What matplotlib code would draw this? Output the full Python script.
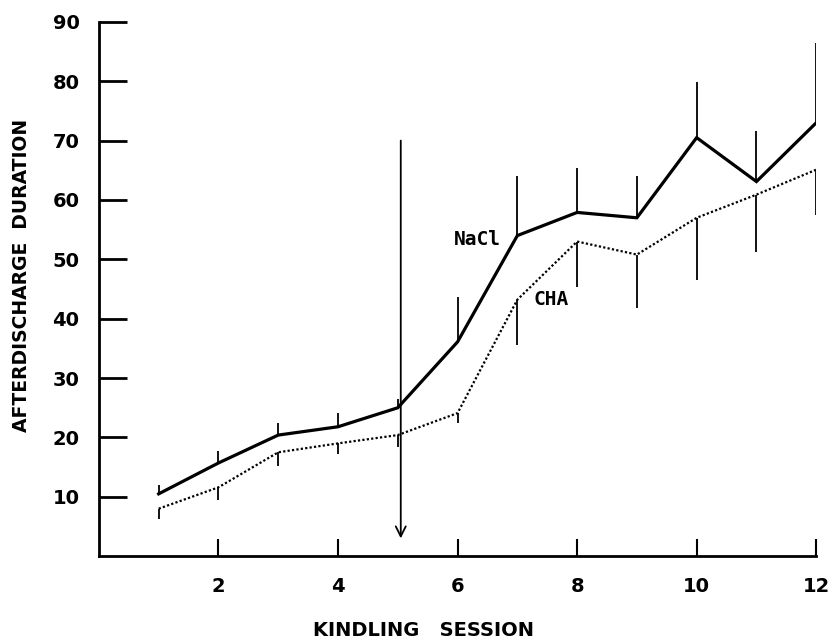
import matplotlib.pyplot as plt
import numpy as np

# kindling session data
sessions = np.arange(1, 13)
nacl_mean = [10.5, 15.7, 20.4, 21.8, 25.0, 36.1, 54.0, 57.9, 57.0, 70.5, 63.1, 73.0]
nacl_err = [1.5, 2.0, 2.0, 2.3, 1.5, 7.6, 10.0, 7.5, 7.0, 9.3, 8.6, 13.5]
cha_mean = [8.0, 11.6, 17.5, 19.0, 20.4, 24.1, 43.2, 53.0, 50.8, 57.0, 60.9, 65.1]
cha_err = [1.7, 2.2, 2.3, 1.8, 2.0, 1.7, 7.6, 7.6, 9.0, 10.5, 9.6, 7.6]

x_ticks = [2, 4, 6, 8, 10, 12]
y_ticks = [10, 20, 30, 40, 50, 60, 70, 80, 90]

fig = plt.figure(figsize=(8.38, 6.43), dpi=100)
ax = fig.add_axes([0.118, 0.135, 0.856, 0.831])

nacl = np.array(nacl_mean)
cha = np.array(cha_mean)

ax.plot(sessions, nacl, color='black', lw=2.3, solid_joinstyle='miter')
ax.plot(sessions, cha, color='black', lw=1.6, linestyle=(0, (1, 1)))

# one-sided error bars: NaCl up, CHA down
ax.vlines(sessions, nacl, nacl + np.array(nacl_err), color='black', lw=1.3)
ax.vlines(sessions, cha - np.array(cha_err), cha, color='black', lw=1.3)

# drug injection arrow
ax.annotate('', xy=(5.05, 3.0), xytext=(5.05, 70.0),
            arrowprops=dict(arrowstyle='->', color='black', lw=1.3,
                            mutation_scale=18, shrinkA=0, shrinkB=0))

ax.text(5.94, 53.4, 'NaCl', family='DejaVu Sans Mono', fontweight='bold',
        fontsize=14, ha='left', va='center')
ax.text(7.27, 43.3, 'CHA', family='DejaVu Sans Mono', fontweight='bold',
        fontsize=14, ha='left', va='center')

ax.set_xlim(0, 12)
ax.set_ylim(0, 90)
ax.set_xticks(x_ticks)
ax.set_yticks(y_ticks)
ax.set_xticklabels([str(t) for t in x_ticks], fontsize=14, fontweight='bold',
                   family='DejaVu Sans')
ax.set_yticklabels([str(t) for t in y_ticks], fontsize=14, fontweight='bold',
                   family='DejaVu Sans')
ax.tick_params(axis='y', direction='in', length=20, width=2, pad=14)
ax.tick_params(axis='x', direction='in', length=12, width=1.5, pad=15)

for side in ['top', 'right']:
    ax.spines[side].set_visible(False)
for side in ['left', 'bottom']:
    ax.spines[side].set_linewidth(2)

ax.set_xlabel('KINDLING   SESSION', fontsize=14, fontweight='bold',
              family='DejaVu Sans')
ax.xaxis.set_label_coords(0.452, -0.121)
ax.set_ylabel('AFTERDISCHARGE  DURATION', fontsize=13.5, fontweight='bold',
              family='DejaVu Sans')
ax.yaxis.set_label_coords(-0.094, 0.526)

fig.savefig('out.png', dpi=100)
